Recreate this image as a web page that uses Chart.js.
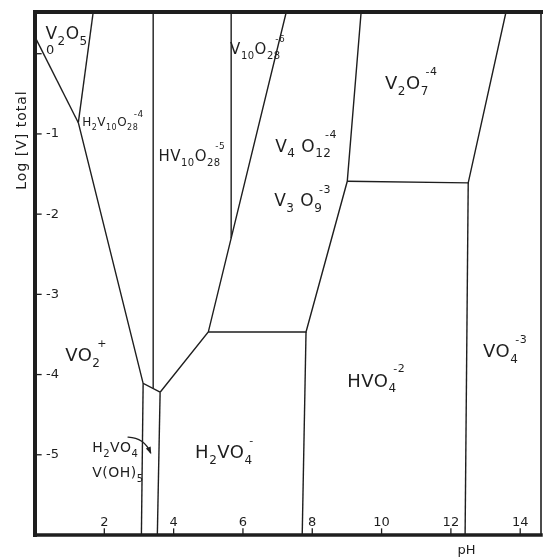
<!DOCTYPE html>
<html>
<head>
<meta charset="utf-8">
<script src="https://cdn.jsdelivr.net/npm/chart.js@4.4.1/dist/chart.umd.min.js"></script>
<style>
  html, body { margin: 0; padding: 0; background: #fff; }
  #wrap { width: 543px; height: 558px; }
</style>
</head>
<body>
<div id="wrap"><canvas id="chart" width="543" height="558"></canvas></div>
<script>
// ============================================================
// Vanadium(V) predominance diagram: pH vs log [V] total
// ============================================================

// ── Axis ranges & ticks ───────────────────────────────────────
const X_MIN = 0,  X_MAX = 14.6;
const Y_MIN = -6, Y_MAX = 0.52;

const xTicks = [2, 4, 6, 8, 10, 12, 14];
const yTicks = [0, -1, -2, -3, -4, -5];

// ── Boundary lines, [pH, log V] ───────────────────────────────
const v2o5Lower   = [[0, 0.21], [1.25, -0.86]];
const v2o5Right   = [[1.68, 0.52], [1.25, -0.86]];
const vo2Edge     = [[1.25, -0.86], [3.12, -4.11], [3.61, -4.22]];
const h2vo4Left   = [[3.12, -4.11], [3.07, -6.0]];
const h2vo4Mid    = [[3.61, -4.22], [3.53, -6.0]];
const hv10Left    = [[3.41, 0.52], [3.41, -4.17]];
const decaEdge    = [[3.61, -4.22], [5.0, -3.47], [7.25, 0.52]];
const v10Left     = [[5.66, 0.52], [5.66, -2.3]];
const metaEdge    = [[5.0, -3.47], [7.82, -3.47], [9.01, -1.59], [9.41, 0.52]];
const h2vo4Right  = [[7.82, -3.47], [7.71, -6.0]];
const pyroEdge    = [[9.01, -1.59], [12.5, -1.61], [13.59, 0.52]];
const vo4Left     = [[12.5, -1.61], [12.41, -6.0]];

const boundaries = [v2o5Lower, v2o5Right, vo2Edge, h2vo4Left, h2vo4Mid, hv10Left,
                    decaEdge, v10Left, metaEdge, h2vo4Right, pyroEdge, vo4Left];

// ── Species labels: text, pH, log V (left / baseline) ─────────
const speciesText = ['V_2O_5', 'H_2V_10O_28^-4', 'HV_10O_28^-5', 'V_10O_28^-6', 'V_4 O_12^-4',
                     'V_3 O_9^-3', 'V_2O_7^-4', 'VO_2^+', 'H_2VO_4', 'V(OH)_5',
                     'H_2VO_4^-', 'HVO_4^-2', 'VO_4^-3'];
const speciesPH   = [0.30, 1.36, 3.56, 5.63, 6.93, 6.90, 10.1, 0.87, 1.65, 1.65, 4.62, 9.01, 12.93];
const speciesLog  = [0.18, -0.905, -1.34, 0.0, -1.22, -1.9, -0.44, -3.83, -4.97, -5.28, -5.04, -4.15, -3.78];

// arrow from the H2VO4 / V(OH)5 note into the narrow strip
const arrowPath = [[2.69, -4.78], [3.15, -4.79], [3.33, -4.97]];

const INK = '#1e1e1e';
const FONT = '"DejaVu Sans", sans-serif';

// decavanadates are lettered smaller in the original
function sizeFor(t) {
    if (t.startsWith('H_2V_10')) return 12;
    if (t.includes('_10')) return 15;
    if (t === 'H_2VO_4' || t === 'V(OH)_5') return 14;
    if (t.startsWith('V_4') || t.startsWith('V_3') || t.startsWith('V_2O_5')) return 17;
    return 18;
}

function drawFormula(ctx, str, x, y, size) {
    const re = /_(\d+)|\^([-+\d]+)|([^_^]+)/g;
    let cx = x, lastSub = 0, m;
    ctx.textBaseline = 'alphabetic';
    ctx.textAlign = 'left';
    while ((m = re.exec(str)) !== null) {
        if (m[1]) {
            ctx.font = Math.round(size * 0.68) + 'px ' + FONT;
            ctx.fillText(m[1], cx, y + size * 0.32);
            lastSub = ctx.measureText(m[1]).width;
            cx += lastSub;
        } else if (m[2]) {
            ctx.font = Math.round(Math.max(size, 15) * 0.62) + 'px ' + FONT;
            const sx = cx - lastSub * 0.4;
            ctx.fillText(m[2], sx, y - size * 0.8);
            cx = sx + ctx.measureText(m[2]).width;
            lastSub = 0;
        } else {
            ctx.font = size + 'px ' + FONT;
            ctx.fillText(m[3], cx, y);
            cx += ctx.measureText(m[3]).width;
            lastSub = 0;
        }
    }
}

const diagramPlugin = {
    id: 'diagram',
    afterDraw(chart) {
        const { ctx, chartArea: a, scales: { x, y } } = chart;
        ctx.save();
        ctx.strokeStyle = INK;
        ctx.fillStyle = INK;
        ctx.lineCap = 'square';

        // frame (heavy left/top/bottom, thin right)
        ctx.lineWidth = 4;
        ctx.beginPath(); ctx.moveTo(a.left, a.bottom); ctx.lineTo(a.left, a.top); ctx.lineTo(a.right, a.top); ctx.stroke();
        ctx.lineWidth = 3.5;
        ctx.beginPath(); ctx.moveTo(a.left, a.bottom); ctx.lineTo(a.right, a.bottom); ctx.stroke();
        ctx.lineWidth = 1.6;
        ctx.beginPath(); ctx.moveTo(a.right, a.top); ctx.lineTo(a.right, a.bottom); ctx.stroke();

        // inward ticks + labels
        ctx.lineWidth = 1.3;
        ctx.font = '13px ' + FONT;
        ctx.textBaseline = 'middle';
        ctx.textAlign = 'left';
        yTicks.forEach(v => {
            const py = y.getPixelForValue(v);
            ctx.beginPath(); ctx.moveTo(a.left, py); ctx.lineTo(a.left + 6, py); ctx.stroke();
            ctx.fillText(v === 0 ? '0' : String(v), a.left + 11, py - (v === 0 ? 3 : 0));
        });
        ctx.textAlign = 'center';
        ctx.textBaseline = 'alphabetic';
        xTicks.forEach(v => {
            const px = x.getPixelForValue(v);
            ctx.beginPath(); ctx.moveTo(px, a.bottom); ctx.lineTo(px, a.bottom - 6); ctx.stroke();
            ctx.fillText(String(v), px, a.bottom - 9);
        });

        // axis titles
        ctx.font = '13px ' + FONT;
        ctx.textAlign = 'center';
        ctx.fillText('pH', x.getPixelForValue(12.45), a.bottom + 19);
        ctx.save();
        ctx.translate(26, a.top + 128);
        ctx.rotate(-Math.PI / 2);
        ctx.textAlign = 'center';
        ctx.font = '14px ' + FONT;
        ctx.letterSpacing = '1px';
        ctx.fillText('Log [V] total', 0, 0);
        ctx.restore();

        // species labels
        ctx.letterSpacing = '0.5px';
        speciesText.forEach((t, i) => {
            drawFormula(ctx, t, x.getPixelForValue(speciesPH[i]), y.getPixelForValue(speciesLog[i]), sizeFor(t));
        });
        ctx.letterSpacing = '0px';

        // arrow
        const p = arrowPath.map(([ph, lg]) => [x.getPixelForValue(ph), y.getPixelForValue(lg)]);
        ctx.lineWidth = 1.3;
        ctx.beginPath();
        ctx.moveTo(p[0][0], p[0][1]);
        ctx.quadraticCurveTo(p[1][0], p[1][1], p[2][0], p[2][1]);
        ctx.stroke();
        const ang = Math.atan2(p[2][1] - p[1][1], p[2][0] - p[1][0]);
        ctx.beginPath();
        ctx.moveTo(p[2][0] + Math.cos(ang) * 2, p[2][1] + Math.sin(ang) * 2);
        ctx.lineTo(p[2][0] - Math.cos(ang - 0.45) * 6, p[2][1] - Math.sin(ang - 0.45) * 6);
        ctx.lineTo(p[2][0] - Math.cos(ang + 0.45) * 6, p[2][1] - Math.sin(ang + 0.45) * 6);
        ctx.closePath();
        ctx.fill();

        ctx.restore();
    }
};

new Chart(document.getElementById('chart').getContext('2d'), {
    type: 'scatter',
    data: {
        datasets: boundaries.map(pts => ({
            data: pts.map(([px, py]) => ({ x: px, y: py })),
            showLine: true,
            borderColor: INK,
            borderWidth: 1.4,
            pointRadius: 0,
            fill: false,
            tension: 0
        }))
    },
    options: {
        responsive: false,
        animation: false,
        devicePixelRatio: 1,
        layout: { padding: { left: 35, top: 12, right: 2, bottom: 23 } },
        plugins: { legend: { display: false }, tooltip: { enabled: false } },
        scales: {
            x: { type: 'linear', min: X_MIN, max: X_MAX, display: false },
            y: { type: 'linear', min: Y_MIN, max: Y_MAX, display: false }
        }
    },
    plugins: [diagramPlugin]
});
</script>
</body>
</html>
